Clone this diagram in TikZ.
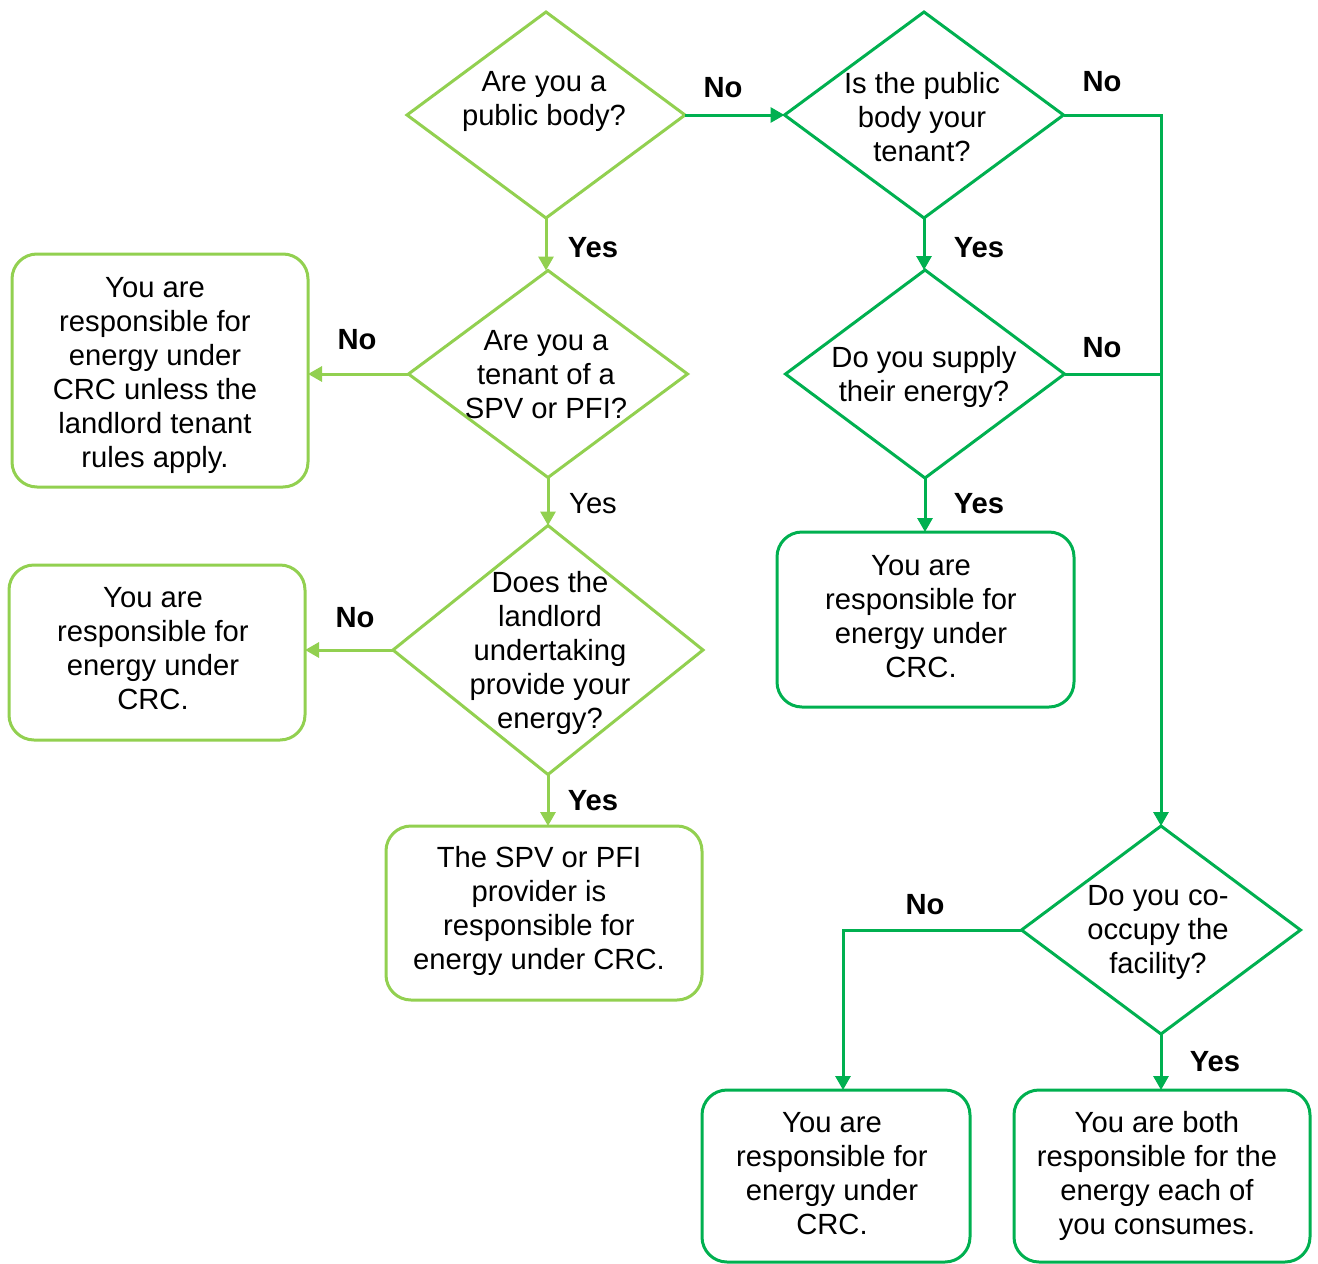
\documentclass[tikz,border=0pt]{standalone}
\usepackage{fontspec}
\setmainfont{Liberation Sans}
\usetikzlibrary{shapes.geometric,arrows.meta}
\definecolor{lgreen}{HTML}{92D050}
\definecolor{dgreen}{HTML}{00B050}
\newcommand{\flowfont}{\fontsize{14.6pt}{17pt}\selectfont}
\tikzset{
  lg/.style={draw=lgreen, line width=1.5pt},
  dg/.style={draw=dgreen, line width=1.5pt},
  decision/.style={diamond, inner sep=0pt, outer sep=0pt},
  outcome/.style={rectangle, rounded corners=12.5pt, inner sep=0pt, outer sep=0pt},
  txt/.style={align=center, font=\flowfont, inner sep=0pt},
  lbl/.style={font=\flowfont\bfseries, inner sep=0pt},
  plainlbl/.style={font=\flowfont, inner sep=0pt},
  arr/.style={-{Triangle[length=7pt,width=7.5pt]}, line width=1.5pt},
  link/.style={line width=1.5pt}
}
\begin{document}
\begin{tikzpicture}[x=0.5pt, y=-0.5pt]
\useasboundingbox (0,0) rectangle (1318,1264);

% decisions
\node[decision, lg, minimum width=139pt, minimum height=103pt] (d1) at (546,115) {};
\node[decision, dg, minimum width=139.5pt, minimum height=103pt] (d2) at (924,115) {};
\node[decision, lg, minimum width=139.5pt, minimum height=103.5pt] (d3) at (548,374) {};
\node[decision, lg, minimum width=155pt, minimum height=124.5pt] (d4) at (548,650) {};
\node[decision, dg, minimum width=139.5pt, minimum height=104pt] (d5) at (925,374) {};
\node[decision, dg, minimum width=139.5pt, minimum height=104pt] (d6) at (1161,930) {};

\node[txt] (d1t) at (544,101) {Are you a\\public body?};
\node[txt] (d2t) at (922,117) {Is the public\\body your\\tenant?};
\node[txt] (d3t) at (546,375) {Are you a\\tenant of a\\SPV or PFI?};
\node[txt] (d4t) at (550,653) {Does the\\landlord\\undertaking\\provide your\\energy?};
\node[txt] (d5t) at (924,377) {Do you supply\\their energy?};
\node[txt] (d6t) at (1158,932) {Do you co-\\occupy the\\facility?};

% outcomes
\node[outcome, lg, minimum width=148pt, minimum height=116.5pt] (b1) at (160,370.5) {};
\node[outcome, lg, minimum width=148pt, minimum height=87.5pt] (b2) at (157,652.5) {};
\node[outcome, lg, minimum width=158pt, minimum height=87pt] (b3) at (544,913) {};
\node[outcome, dg, minimum width=148.5pt, minimum height=87.5pt] (b4) at (925.5,619.5) {};
\node[outcome, dg, minimum width=134pt, minimum height=86pt] (b5) at (836,1176) {};
\node[outcome, dg, minimum width=148pt, minimum height=86pt] (b6) at (1162,1176) {};

\node[txt] (b1t) at (155,375) {You are\\responsible for\\energy under\\CRC unless the\\landlord tenant\\rules apply.};
\node[txt] (b2t) at (153,649) {You are\\responsible for\\energy under\\CRC.};
\node[txt] (b3t) at (539,911) {The SPV or PFI\\provider is\\responsible for\\energy under CRC.};
\node[txt] (b4t) at (921,617) {You are\\responsible for\\energy under\\CRC.};
\node[txt] (b5t) at (832,1174) {You are\\responsible for\\energy under\\CRC.};
\node[txt] (b6t) at (1157,1176) {You are both\\responsible for the\\energy each of\\you consumes.};

% connectors, left branch
\draw[arr, dgreen] (d1.east) -- (d2.west);
\draw[arr, lgreen] (d1.south) -- (d1.south |- d3.north);
\draw[arr, lgreen] (d3.west) -- (d3.west -| b1.east);
\draw[arr, lgreen] (d3.south) -- (d3.south |- d4.north);
\draw[arr, lgreen] (d4.west) -- (d4.west -| b2.east);
\draw[arr, lgreen] (d4.south) -- (d4.south |- b3.north);

% connectors, right branch
\draw[arr, dgreen] (d2.south) -- (d2.south |- d5.north);
\draw[arr, dgreen] (d5.south) -- (d5.south |- b4.north);
\draw[arr, dgreen] (d2.east) -| (d6.north);
\draw[link, dgreen] (d5.east) -- (d5.east -| d6.north);
\draw[arr, dgreen] (d6.west) -| ([xshift=3.5pt]b5.north);
\draw[arr, dgreen] (d6.south) -- (d6.south |- b6.north);

% branch labels
\node[lbl] (l1) at (723,88) {No};
\node[lbl] (l2) at (593,248) {Yes};
\node[lbl] (l3) at (357,340) {No};
\node[plainlbl] (l4) at (593,504) {Yes};
\node[lbl] (l5) at (355,618) {No};
\node[lbl] (l6) at (593,801) {Yes};
\node[lbl] (l7) at (979,248) {Yes};
\node[lbl] (l8) at (1102,82) {No};
\node[lbl] (l9) at (1102,348) {No};
\node[lbl] (l10) at (979,504) {Yes};
\node[lbl] (l11) at (925,905) {No};
\node[lbl] (l12) at (1215,1062) {Yes};
\end{tikzpicture}
\end{document}
